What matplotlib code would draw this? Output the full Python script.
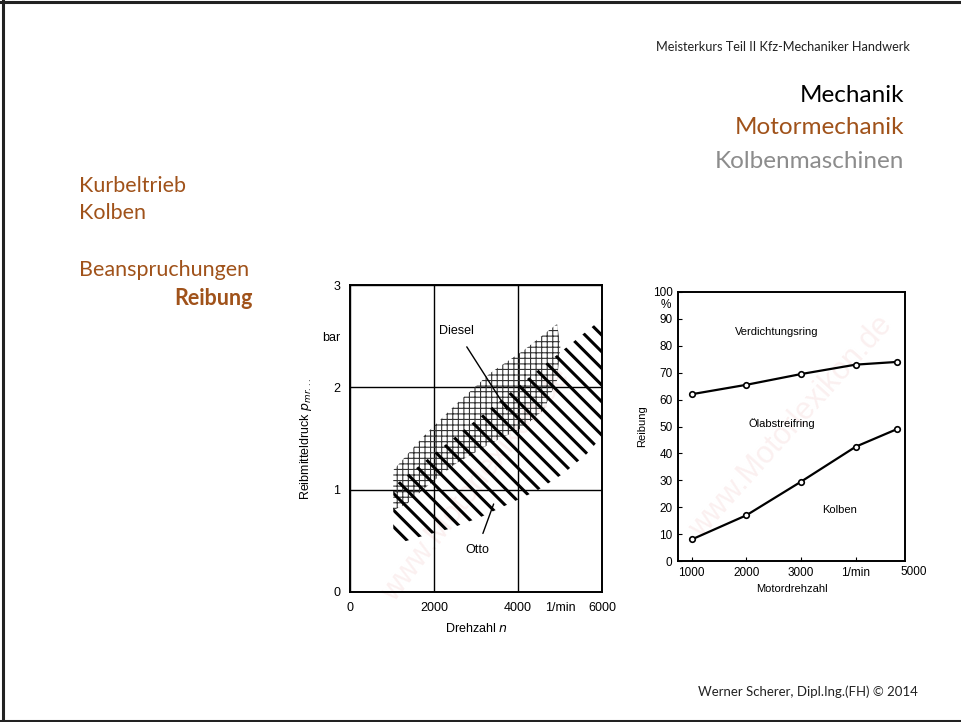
import numpy as np
import matplotlib.pyplot as plt
from matplotlib.patches import Polygon
from matplotlib.lines import Line2D

# left chart: Reibmitteldruck bands
diesel_n = [1030, 1030, 1750, 2540, 3340, 4130, 4930, 5010, 4930, 4610, 4130, 3340, 2540, 1910, 1350]
diesel_p = [0.80, 1.19, 1.52, 1.84, 2.14, 2.36, 2.62, 2.40, 2.07, 1.78, 1.61, 1.45, 1.26, 1.06, 0.86]
otto_n = [1030, 6000, 6000, 5640, 5090, 4450, 3780, 3100, 2390, 1670, 1270, 1030]
otto_p = [1.03, 2.67, 1.52, 1.35, 1.16, 0.99, 0.86, 0.73, 0.62, 0.54, 0.49, 0.57]

# right chart: Reibungsanteile
drehzahl = [1000, 2000, 3000, 4000, 4750]
verdichtungsring = [62, 65.5, 69.5, 73, 74]
kolben = [8, 17, 29.5, 42.5, 49]

slide_font = 'Lato'
chart_font = 'Liberation Sans'
brown = '#A0521A'

fig = plt.figure(figsize=(9.62, 7.22), dpi=100)

# slide frame (open on the right)
fig.add_artist(Line2D([3/962, 3/962], [0, 1 - 1/722], color='#222222', lw=2.2))
fig.add_artist(Line2D([0, 1], [1 - 2/722, 1 - 2/722], color='#222222', lw=2.2))
fig.add_artist(Line2D([0, 1], [1/722, 1/722], color='#222222', lw=2.2))

def px(x, y):
    return x / 962, 1 - y / 722

fig.text(*px(910, 47), 'Meisterkurs Teil II Kfz-Mechaniker Handwerk', ha='right', va='center',
         fontsize=9.2, family=slide_font, color='#222222')
fig.text(*px(904, 95), 'Mechanik', ha='right', va='center', fontsize=17.5, family=slide_font, color='black')
fig.text(*px(904, 128), 'Motormechanik', ha='right', va='center', fontsize=17.5, family=slide_font, color=brown)
fig.text(*px(904, 162), 'Kolbenmaschinen', ha='right', va='center', fontsize=17.5, family=slide_font, color='#8C8C8C')

fig.text(*px(79, 186), 'Kurbeltrieb', ha='left', va='center', fontsize=15.5, family=slide_font, color=brown)
fig.text(*px(79, 213), 'Kolben', ha='left', va='center', fontsize=15.5, family=slide_font, color=brown)
fig.text(*px(79, 270), 'Beanspruchungen', ha='left', va='center', fontsize=15.5, family=slide_font, color=brown)
fig.text(*px(253, 298), 'Reibung', ha='right', va='center', fontsize=15.5, family=slide_font, color=brown,
         fontweight='bold')

fig.text(*px(918, 692), 'Werner Scherer, Dipl.Ing.(FH) \u00a9 2014', ha='right', va='center',
         fontsize=9.5, family=slide_font, color='#222222')

# ---- left chart
ax1 = fig.add_axes([350/962, 1 - 592/722, 252/962, 307/722])
ax1.set_xlim(0, 6000)
ax1.set_ylim(0, 3)
for s in ax1.spines.values():
    s.set_linewidth(1.4)
ax1.grid(True, color='black', lw=1.0)
ax1.set_xticks([0, 2000, 4000, 5000, 6000])
ax1.set_xticklabels(['0', '2000', '4000', '1/min', '6000'])
ax1.set_yticks([0, 1, 2, 2.5, 3])
ax1.set_yticklabels(['0', '1', '2', 'bar', '3'])
ax1.tick_params(length=0, labelsize=9, pad=7)
for lab in ax1.get_xticklabels() + ax1.get_yticklabels():
    lab.set_family(chart_font)
# no grid line at the "bar" and "1/min" positions
ax1.get_xgridlines()[3].set_visible(False)
ax1.get_ygridlines()[3].set_visible(False)

diesel = Polygon(np.column_stack([diesel_n, diesel_p]), closed=True, facecolor='none',
                 edgecolor='#333333', lw=0, hatch='+++', zorder=2)
otto = Polygon(np.column_stack([otto_n, otto_p]), closed=True, facecolor='none',
               edgecolor='black', lw=0, hatch='\\\\', zorder=3)
if hasattr(diesel, 'set_hatch_linewidth'):
    diesel.set_hatch_linewidth(0.8)
    otto.set_hatch_linewidth(2.2)
ax1.add_patch(diesel)
ax1.add_patch(otto)

ax1.annotate('Diesel', xy=(3740, 1.78), xytext=(2540, 2.55), ha='center', va='center',
             fontsize=9, family=chart_font, zorder=5,
             arrowprops=dict(arrowstyle='-', color='black', lw=1.0, shrinkA=6, shrinkB=0))
ax1.annotate('Otto', xy=(3420, 0.86), xytext=(3020, 0.41), ha='center', va='center',
             fontsize=9, family=chart_font, zorder=5,
             arrowprops=dict(arrowstyle='-', color='black', lw=1.0, shrinkA=6, shrinkB=0))

ax1.set_xlabel('Drehzahl $n$', fontsize=9, family=chart_font, labelpad=6)
ax1.set_ylabel(r'Reibmitteldruck $p_{mr...}$', fontsize=9, family=chart_font, labelpad=6)
ax1.text(0.5, 0.35, 'www.Motorlexikon.de', transform=ax1.transAxes, rotation=52, ha='center',
         va='center', fontsize=22, color='#fbf0f0', family=chart_font, zorder=0)

# ---- right chart
ax2 = fig.add_axes([678/962, 1 - 561/722, 227/962, 269/722])
ax2.set_xlim(750, 4900)
ax2.set_ylim(0, 100)
for s in ax2.spines.values():
    s.set_linewidth(1.4)
ax2.plot(drehzahl, verdichtungsring, color='black', lw=1.6, marker='o', ms=4,
         mfc='white', mec='black', mew=1.2, zorder=4)
ax2.plot(drehzahl, kolben, color='black', lw=1.6, marker='o', ms=4,
         mfc='white', mec='black', mew=1.2, zorder=4)
ax2.set_xticks([1000, 2000, 3000, 4000])
ax2.set_xticklabels(['1000', '2000', '3000', '1/min'])
ax2.set_yticks(np.arange(0, 101, 10))
ax2.tick_params(direction='in', length=3, labelsize=8.5, pad=4)
for lab in ax2.get_xticklabels() + ax2.get_yticklabels():
    lab.set_family(chart_font)
ax2.text(5060, -1.8, '5000', ha='center', va='top', fontsize=8.5, family=chart_font, clip_on=False,
         transform=ax2.transData)
ax2.text(-0.03, 95, '%', transform=ax2.get_yaxis_transform(), ha='right', va='center',
         fontsize=8.5, family=chart_font)
ax2.text(2550, 85, 'Verdichtungsring', ha='center', va='center', fontsize=8, family=chart_font)
ax2.text(2650, 51, '\u00d6labstreifring', ha='center', va='center', fontsize=8, family=chart_font)
ax2.text(3700, 19, 'Kolben', ha='center', va='center', fontsize=8, family=chart_font)
ax2.set_xlabel('Motordrehzahl', fontsize=8, family=chart_font, labelpad=4)
ax2.set_ylabel('Reibung', fontsize=8, family=chart_font, labelpad=4)
ax2.text(0.5, 0.5, 'www.Motorlexikon.de', transform=ax2.transAxes, rotation=48, ha='center',
         va='center', fontsize=22, color='#fbf0f0', family=chart_font, zorder=0)

fig.savefig('out.png', dpi=100)
